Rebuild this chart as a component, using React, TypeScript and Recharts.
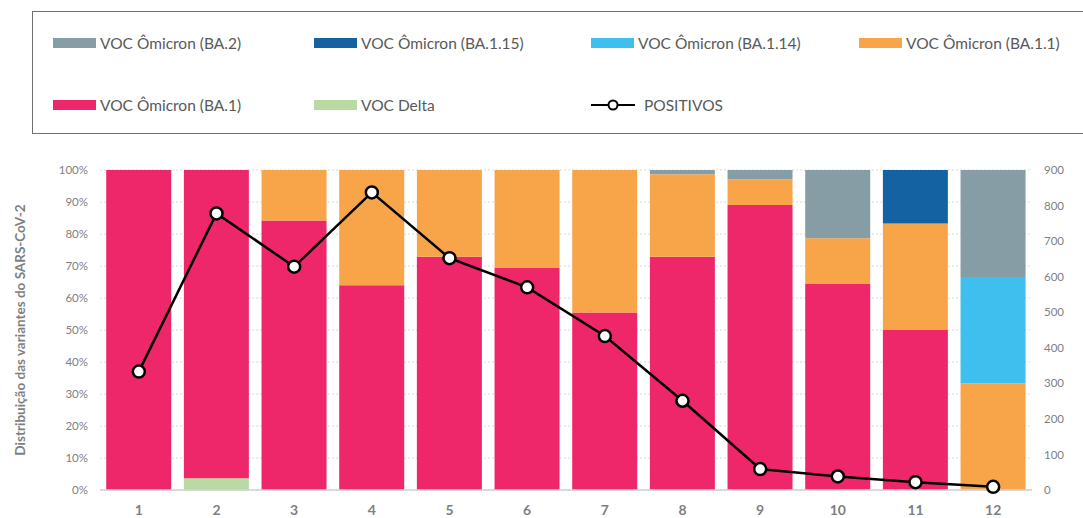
import React from "react";
import {
  ComposedChart,
  Bar,
  Line,
  XAxis,
  YAxis,
  CartesianGrid,
} from "recharts";

// week numbers on the x axis
const weeks = ["1", "2", "3", "4", "5", "6", "7", "8", "9", "10", "11", "12"];

// share of each variant (%), stacked bottom to top
const delta = [0, 3.7, 0, 0, 0, 0, 0, 0, 0, 0, 0, 0];
const ba1 = [100, 96.3, 84.2, 64.0, 72.9, 69.5, 55.5, 72.9, 89.1, 64.4, 50.0, 0];
const ba11 = [0, 0, 15.8, 36.0, 27.1, 30.5, 44.5, 25.8, 8.0, 14.3, 33.3, 33.3];
const ba114 = [0, 0, 0, 0, 0, 0, 0, 0, 0, 0, 0, 33.3];
const ba115 = [0, 0, 0, 0, 0, 0, 0, 0, 0, 0, 16.7, 0];
const ba2 = [0, 0, 0, 0, 0, 0, 0, 1.3, 2.9, 21.3, 0, 33.4];

// positive samples (right axis)
const positivos = [333, 778, 628, 837, 652, 570, 433, 251, 59, 38, 22, 9];

const pctTicks = [0, 10, 20, 30, 40, 50, 60, 70, 80, 90, 100];
const countTicks = [0, 100, 200, 300, 400, 500, 600, 700, 800, 900];

const series = [
  { key: "delta", name: "VOC Delta", color: "#B7DBA3" },
  { key: "ba1", name: "VOC Ômicron (BA.1)", color: "#EE276B" },
  { key: "ba11", name: "VOC Ômicron (BA.1.1)", color: "#F8A54A" },
  { key: "ba114", name: "VOC Ômicron (BA.1.14)", color: "#3EBFEE" },
  { key: "ba115", name: "VOC Ômicron (BA.1.15)", color: "#1562A3" },
  { key: "ba2", name: "VOC Ômicron (BA.2)", color: "#879DA6" },
];

// legend layout as in the original (two rows, four columns)
const legendRows = [
  ["ba2", "ba115", "ba114", "ba11"],
  ["ba1", "delta", "positivos"],
];

const data = weeks.map((w, i) => ({
  week: w,
  delta: delta[i],
  ba1: ba1[i],
  ba11: ba11[i],
  ba114: ba114[i],
  ba115: ba115[i],
  ba2: ba2[i],
  positivos: positivos[i],
}));

const FONT = "Lato, 'Open Sans', sans-serif";
const GREY = "#7F7F7F";

function LegendBox() {
  const colX = [52, 313, 590, 858];
  const rowY = [42, 104];
  return (
    <div
      style={{
        position: "absolute",
        left: 32,
        top: 11,
        width: 1060,
        height: 123,
        border: "1.5px solid #6f6f6f",
        boxSizing: "border-box",
      }}
    >
      {legendRows.map((row, r) =>
        row.map((key, c) => {
          const s = series.find((x) => x.key === key);
          const left = colX[c] - 32;
          const top = rowY[r] - 11;
          if (key === "positivos") {
            return (
              <div key={key} style={{ position: "absolute", left, top: top - 10, display: "flex", alignItems: "center", height: 20 }}>
                <svg width={46} height={14}>
                  <line x1={0} y1={7} x2={44} y2={7} stroke="#000" strokeWidth={2} />
                  <circle cx={22} cy={7} r={4.5} fill="#fff" stroke="#000" strokeWidth={2} />
                </svg>
                <span style={{ marginLeft: 7, fontFamily: FONT, fontSize: 15.5, color: "#595959" }}>POSITIVOS</span>
              </div>
            );
          }
          return (
            <div key={key} style={{ position: "absolute", left, top: top - 10, display: "flex", alignItems: "center", height: 20 }}>
              <div style={{ width: 43, height: 10, background: s!.color }} />
              <span style={{ marginLeft: 4, fontFamily: FONT, fontSize: 15.5, color: "#595959" }}>{s!.name}</span>
            </div>
          );
        })
      )}
    </div>
  );
}

export default function App() {
  return (
    <div style={{ position: "absolute", left: 0, top: 0, width: 1083, height: 518, overflow: "hidden", background: "#fff" }}>
      <LegendBox />
      <ComposedChart
        width={1083}
        height={518}
        data={data}
        margin={{ top: 170, right: 0, bottom: 0, left: 40 }}
        barCategoryGap="8%"
      >
        <CartesianGrid vertical={false} stroke="#d9d9d9" strokeDasharray="2 2" yAxisId="pct" />
        <XAxis
          dataKey="week"
          height={28}
          tickLine={false}
          axisLine={{ stroke: "#d0d0d0", strokeWidth: 1.5 }}
          tick={{ fill: GREY, fontSize: 14, fontWeight: 700, fontFamily: FONT }}
          tickMargin={9}
        />
        <YAxis
          yAxisId="pct"
          width={60}
          domain={[0, 100]}
          ticks={pctTicks}
          tickFormatter={(v) => `${v}%`}
          tickLine={false}
          axisLine={false}
          tick={{ fill: GREY, fontSize: 11.5, fontFamily: FONT }}
          tickMargin={6}
          label={{
            content: (props: any) => {
              const vb = props.viewBox;
              const cx = vb.x - 20;
              const cy = vb.y + vb.height / 2;
              return (
                <text
                  x={cx}
                  y={cy}
                  transform={`rotate(-90 ${cx} ${cy})`}
                  textAnchor="middle"
                  dominantBaseline="central"
                  fill={GREY}
                  fontSize={13.5}
                  fontWeight={700}
                  fontFamily={FONT}
                >
                  Distribuição das variantes do SARS-CoV-2
                </text>
              );
            },
          }}
        />
        <YAxis
          yAxisId="cnt"
          orientation="right"
          width={51}
          domain={[0, 900]}
          ticks={countTicks}
          tickLine={false}
          axisLine={false}
          tick={{ fill: GREY, fontSize: 11.5, fontFamily: FONT, textAnchor: "start" }}
          tickMargin={6}
        />
        {series.map((s) => (
          <Bar
            key={s.key}
            yAxisId="pct"
            dataKey={s.key}
            name={s.name}
            stackId="v"
            fill={s.color}
            isAnimationActive={false}
          />
        ))}
        <Line
          yAxisId="cnt"
          dataKey="positivos"
          name="POSITIVOS"
          stroke="#000"
          strokeWidth={2.5}
          dot={{ r: 6, fill: "#fff", stroke: "#000", strokeWidth: 2.5 }}
          isAnimationActive={false}
        />
      </ComposedChart>
    </div>
  );
}
